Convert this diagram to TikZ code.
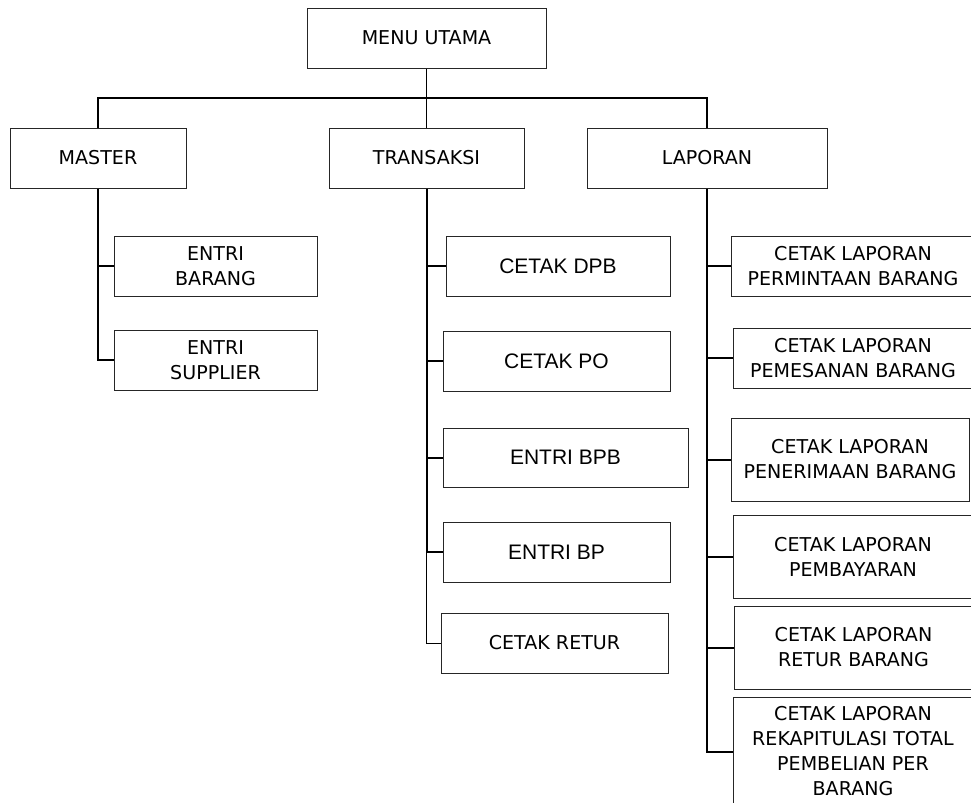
\documentclass[tikz,border=0pt]{standalone}
\usepackage{fontspec}
\usepackage{tikz}
\usetikzlibrary{positioning,calc}
\newfontfamily\tahoma{DejaVu Sans}
\newfontfamily\arial{Liberation Sans}
\newcommand{\px}{0.75pt}
\tikzset{
  kotak/.style={draw=black!85, line width=0.75pt, inner sep=0pt, align=center,
    font=\tahoma\fontsize{14.3}{18.75}\selectfont},
  kotakb/.style={kotak, font=\arial\fontsize{15.75}{18.75}\selectfont},
  ukuran/.style 2 args={minimum width=#1*\px, minimum height=#2*\px},
  tebal/.style={line width=1.5pt},
  tipis/.style={line width=0.75pt}
}

\begin{document}
\begin{tikzpicture}[x=0.75pt,y=-0.75pt]
    \clip (0,0) rectangle (971,803);
    % level 1
    \node[kotak, ukuran={239}{60}] (menu) at (426.5,38) {MENU UTAMA};
    \node[kotak, ukuran={176}{60}] (master) at (98,158) {MASTER};
    \node[kotak, ukuran={195}{60}] (transaksi) at (426.5,158) {TRANSAKSI};
    \node[kotak, ukuran={240}{60}] (laporan) at (707,158) {LAPORAN};
    \coordinate (bar) at (426.5,98);
    % master
    \node[kotak, ukuran={203}{60}] (barang) at (215.5,266) {ENTRI\\BARANG};
    \node[kotak, ukuran={203}{60}] (supplier) at (215.5,360) {ENTRI\\SUPPLIER};
    % transaksi
    \node[kotakb, ukuran={224}{60}] (dpb) at (558,266) {CETAK DPB};
    \node[kotakb, ukuran={227}{60}] (po) at (556.5,361) {CETAK PO};
    \node[kotakb, ukuran={245}{59}] (bpb) at (565.5,457.5) {ENTRI BPB};
    \node[kotakb, ukuran={227}{60}] (bp) at (556.5,552) {ENTRI BP};
    \node[kotak, ukuran={227}{60}] (retur) at (554.5,643) {CETAK RETUR};
    % laporan
    \node[kotak, ukuran={244}{60}] (lap1) at (853,266) {CETAK LAPORAN\\PERMINTAAN BARANG};
    \node[kotak, ukuran={240}{60}] (lap2) at (853,358) {CETAK LAPORAN\\PEMESANAN BARANG};
    \node[kotak, ukuran={238}{83}] (lap3) at (850,459.5) {CETAK LAPORAN\\PENERIMAAN BARANG};
    \node[kotak, ukuran={240}{83}] (lap4) at (853,556.5) {CETAK LAPORAN\\PEMBAYARAN};
    \node[kotak, ukuran={239}{83}] (lap5) at (853.5,647.5) {CETAK LAPORAN\\RETUR BARANG};
    \node[kotak, ukuran={240}{109}] (lap6) at (853,751.5) {CETAK LAPORAN\\REKAPITULASI TOTAL\\PEMBELIAN PER\\BARANG};

    \draw[tipis] (menu.south) -- (transaksi.north);
    \draw[tebal] (master.north) -- (master.north |- bar) -- (laporan.north |- bar) -- (laporan.north);

    \draw[tebal] (master.south) |- (supplier.west);
    \draw[tebal] (master.south |- barang.west) -- (barang.west);

    \draw[tebal] (transaksi.south) |- (bp.west);
    \foreach \n in {dpb,po,bpb}
        \draw[tebal] (transaksi.south |- \n.west) -- (\n.west);
    \draw[tipis] (transaksi.south |- bp.west) |- (retur.west);

    \draw[tebal] (laporan.south) |- (lap6.west);
    \foreach \n in {lap1,lap2,lap3,lap4,lap5}
        \draw[tebal] (laporan.south |- \n.west) -- (\n.west);
\end{tikzpicture}
\end{document}
